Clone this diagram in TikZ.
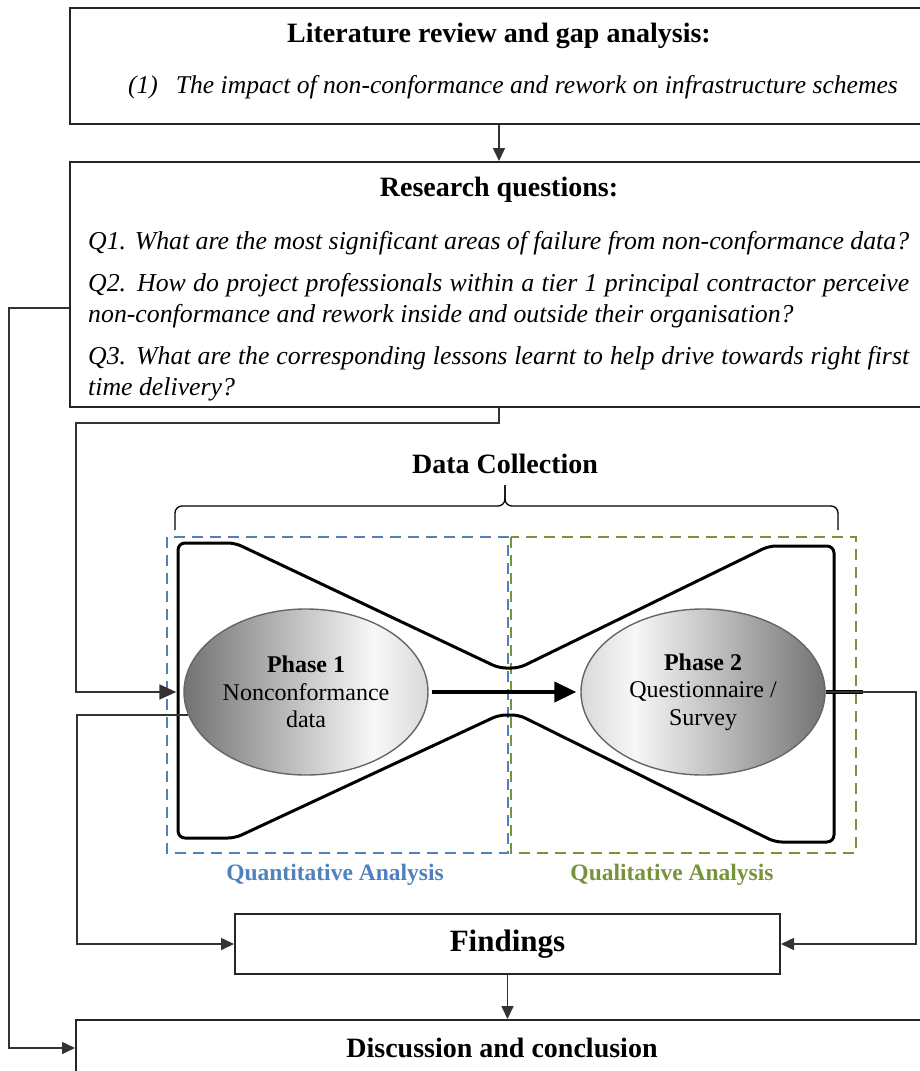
\documentclass[tikz,border=0pt]{standalone}
\usepackage{fontspec}
\setmainfont{Liberation Serif}
\usetikzlibrary{arrows.meta,shapes.geometric}
\definecolor{QuantBlue}{RGB}{79,129,189}
\definecolor{QualGreen}{RGB}{119,147,60}
\pgfdeclarehorizontalshading{DarkLeft}{100bp}{color(0bp)=(black!55); color(25bp)=(black!55); color(64bp)=(black!3); color(75bp)=(black!15); color(100bp)=(black!15)}
\pgfdeclarehorizontalshading{DarkRight}{100bp}{color(0bp)=(black!15); color(25bp)=(black!15); color(36bp)=(black!3); color(75bp)=(black!55); color(100bp)=(black!55)}
\tikzset{
    StageBox/.style={draw=black!85, line width=2pt, inner sep=0pt},
    Heading/.style={font=\fontsize{28}{32}\selectfont\bfseries, inner sep=0pt},
    PhaseBubble/.style={ellipse, shade, draw=black!60, line width=1.4pt, minimum width=244pt, minimum height=166pt, inner sep=0pt, align=center, font=\fontsize{24}{27.5}\selectfont},
    Flow/.style={line width=1.6pt, draw=black!80, -{Triangle[length=13pt,width=12pt]}},
    FlowIn/.style={Flow, -{Triangle[length=17pt,width=15pt]}, shorten >=7pt},
    Region/.style={dashed, dash pattern=on 11pt off 7pt, line width=2.2pt},
}
\begin{document}
\begin{tikzpicture}[x=1pt,y=-1pt]
    \clip (0,0) rectangle (920,1071);
    \fill[white] (0,0) rectangle (920,1071);
    % literature and questions
    \node[StageBox, minimum width=858pt, minimum height=116pt] (LitBox) at (499,66) {};
    \node[Heading] (LitTitle) at (499,36) {Literature review and gap analysis:};
    \node[inner sep=0pt, font=\fontsize{25.6}{28}\selectfont\itshape] (LitItem) at (513,87) {(1)\hspace{0.7em}The impact of non-conformance and rework on infrastructure schemes};
    \node[StageBox, minimum width=858pt, minimum height=245pt] (RqBox) at (499,284.5) {};
    \node[Heading] (RqTitle) at (499,190) {Research questions:};
    \node[anchor=north west, inner sep=0pt, text width=821pt, align=justify, font=\fontsize{25.8}{31}\selectfont\itshape] (RqList) at (88,231) {\setlength{\parskip}{11pt}%
        Q1. What are the most significant areas of failure from non-conformance data?\par
        Q2. How do project professionals within a tier 1 principal contractor perceive non-conformance and rework inside and outside their organisation?\par
        Q3. What are the corresponding lessons learnt to help drive towards right first\linebreak time delivery?};
    % data collection
    \node[Heading] (DataTitle) at (505,464) {Data Collection};
    \draw[line width=1.3pt, rounded corners=7pt] (175,530) -- (175,506) -- (505,506) -- (505,485);
    \draw[line width=1.3pt, rounded corners=7pt] (838,530) -- (838,506) -- (505,506) -- (505,485);
    \begin{scope}[color=QuantBlue] % quantitative
        \draw[Region] (167,537) rectangle (508,853);
        \node[font=\fontsize{23.5}{26}\selectfont\bfseries, inner sep=0pt] (QuantLabel) at (335,875) {Quantitative Analysis};
    \end{scope}
    \begin{scope}[color=QualGreen] % qualitative
        \draw[Region] (511,537) rectangle (856,853);
        \node[font=\fontsize{23.5}{26}\selectfont\bfseries, inner sep=0pt] (QualLabel) at (672,875) {Qualitative Analysis};
    \end{scope}
    \draw[line width=3pt, rounded corners=7pt] (178,543) -- (235,543) -- (499,668) -- (519,668) -- (769,546) -- (834,546) -- (834,842) -- (775,842) -- (519,715) -- (499,715) -- (235,838) -- (178,838) -- cycle;
    \node[PhaseBubble, shading=DarkLeft] (PhaseOne) at (306,692) {\textbf{Phase 1}\\Nonconformance\\data};
    \node[PhaseBubble, shading=DarkRight] (PhaseTwo) at (703,692) {\textbf{Phase 2}\\Questionnaire /\\Survey};
    % findings and conclusion
    \node[StageBox, minimum width=545pt, minimum height=60pt, font=\fontsize{31}{34}\selectfont\bfseries] (FindBox) at (507.5,944) {Findings};
    \node[StageBox, minimum width=852pt, minimum height=56pt, Heading] (DiscBox) at (502,1048) {Discussion and conclusion};
    % connectors
    \coordinate (FeedLane) at (76,423);
    \draw[Flow] (LitBox.south) -- (RqBox.north);
    \draw[FlowIn] (RqBox.south) |- (FeedLane) |- (PhaseOne.west);
    \draw[line width=4pt, -{Triangle[length=22pt,width=20pt]}, shorten <=3pt, shorten >=4pt] (PhaseOne.east) -- (PhaseTwo.west);
    \draw[Flow] (PhaseOne.191) -- ++(-111,0) |- (FindBox.west);
    \draw[line width=4pt] (PhaseTwo.east) -- ++(37,0);
    \draw[Flow] (PhaseTwo.east) -- ++(90,0) |- (FindBox.east);
    \draw[Flow] (FindBox.south) -- (FindBox.south |- DiscBox.north);
    \draw[Flow] ([yshift=-23.5pt]RqBox.west) -- ++(-60,0) |- (DiscBox.west);
\end{tikzpicture}
\end{document}
